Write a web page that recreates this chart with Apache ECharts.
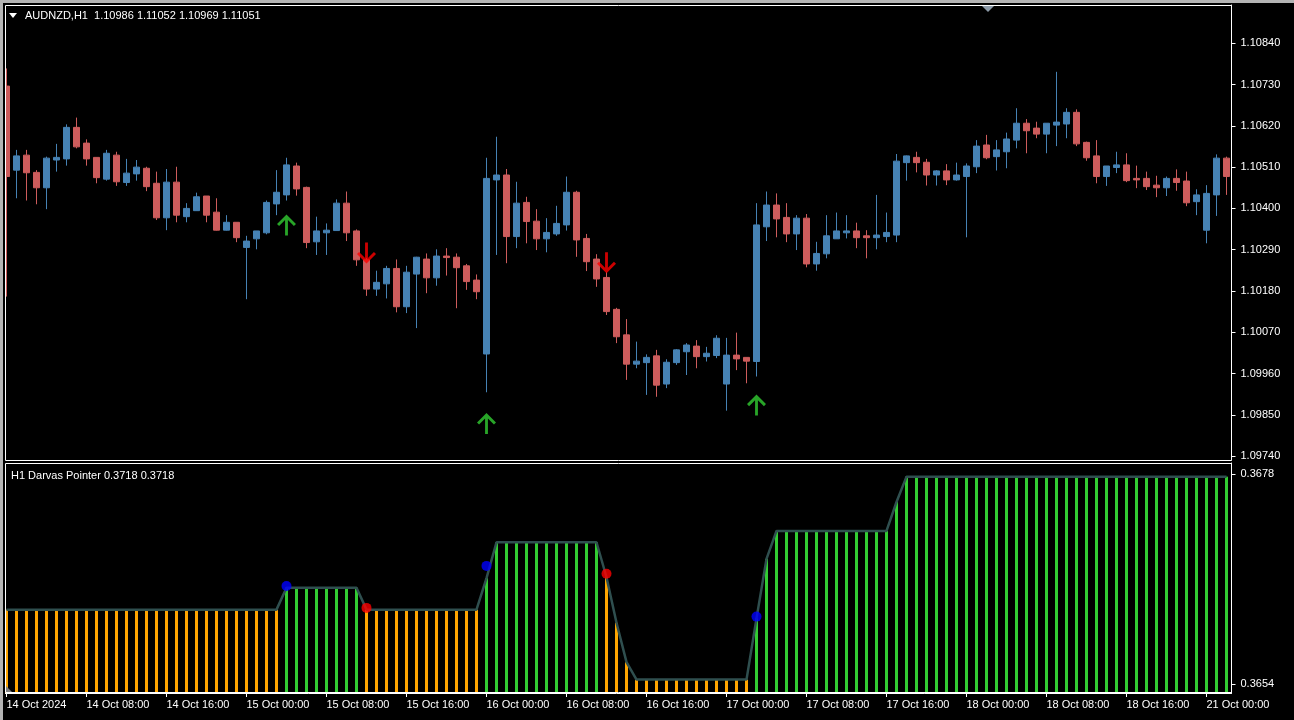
<!DOCTYPE html>
<html>
<head>
<meta charset="utf-8">
<script src="https://cdn.jsdelivr.net/npm/echarts@6/dist/echarts.min.js"></script>
<style>html,body{margin:0;padding:0;background:#000;}#chart{width:1294px;height:720px;}</style>
</head>
<body>
<div id="chart"></div>
<script>
// ---- DATA (AUDNZD H1, 14 Oct 2024 00:00 .. 21 Oct 2024 02:00) ----
const days = ['14 Oct', '15 Oct', '16 Oct', '17 Oct', '18 Oct', '21 Oct'];
const hoursPerDay = [24, 24, 24, 24, 24, 3];
const timeLabels = ['14 Oct 2024', '14 Oct 08:00', '14 Oct 16:00', '15 Oct 00:00', '15 Oct 08:00', '15 Oct 16:00',
  '16 Oct 00:00', '16 Oct 08:00', '16 Oct 16:00', '17 Oct 00:00', '17 Oct 08:00', '17 Oct 16:00',
  '18 Oct 00:00', '18 Oct 08:00', '18 Oct 16:00', '21 Oct 00:00'];
const priceTicks = [1.09740, 1.09850, 1.09960, 1.10070, 1.10180, 1.10290, 1.10400, 1.10510, 1.10620, 1.10730, 1.10840];
const indTicks = [0.3654, 0.3678];

const opens = [1.10726,1.10502,1.10542,1.10496,1.10455,1.10529,1.10532,1.10616,1.10574,1.10536,
1.10478,1.10542,1.10469,1.10492,1.10507,1.10467,1.10375,1.10470,1.10378,1.10394,
1.10433,1.10390,1.10342,1.10363,1.10296,1.10319,1.10335,1.10412,1.10436,1.10513,
1.10456,1.10311,1.10335,1.10341,1.10414,1.10340,1.10263,1.10185,1.10199,1.10240,
1.10138,1.10225,1.10265,1.10215,1.10273,1.10270,1.10247,1.10209,1.10012,1.10476,
1.10489,1.10325,1.10416,1.10366,1.10319,1.10332,1.10356,1.10443,1.10320,1.10265,
1.10216,1.10131,1.10063,1.09985,1.09989,1.10007,1.09932,1.09989,1.10018,1.10033,
1.10005,1.10008,1.09932,1.10009,1.10003,1.09992,1.10351,1.10409,1.10376,1.10332,
1.10374,1.10252,1.10279,1.10319,1.10335,1.10340,1.10327,1.10322,1.10325,1.10329,
1.10522,1.10536,1.10523,1.10489,1.10500,1.10476,1.10485,1.10511,1.10569,1.10538,
1.10551,1.10582,1.10627,1.10614,1.10598,1.10622,1.10625,1.10656,1.10576,1.10540,
1.10485,1.10509,1.10516,1.10480,1.10480,1.10462,1.10455,1.10480,1.10473,1.10418,
1.10342,1.10436,1.10534];
const highs = [1.10773,1.10556,1.10556,1.10502,1.10538,1.10572,1.10624,1.10642,1.10584,1.10536,
1.10556,1.10551,1.10532,1.10529,1.10511,1.10498,1.10505,1.10511,1.10414,1.10442,
1.10433,1.10427,1.10382,1.10363,1.10327,1.10340,1.10421,1.10502,1.10535,1.10522,
1.10458,1.10378,1.10360,1.10424,1.10445,1.10344,1.10268,1.10234,1.10247,1.10264,
1.10247,1.10271,1.10280,1.10291,1.10294,1.10280,1.10252,1.10224,1.10535,1.10591,
1.10505,1.10471,1.10431,1.10398,1.10374,1.10407,1.10485,1.10447,1.10332,1.10278,
1.10231,1.10135,1.10105,1.10045,1.10011,1.10023,1.09998,1.10025,1.10041,1.10049,
1.10031,1.10062,1.10055,1.10069,1.10003,1.10414,1.10445,1.10440,1.10414,1.10382,
1.10385,1.10311,1.10382,1.10389,1.10382,1.10362,1.10342,1.10436,1.10389,1.10545,
1.10541,1.10551,1.10532,1.10502,1.10518,1.10522,1.10520,1.10582,1.10596,1.10582,
1.10602,1.10667,1.10638,1.10631,1.10627,1.10764,1.10667,1.10664,1.10578,1.10582,
1.10513,1.10551,1.10547,1.10514,1.10498,1.10487,1.10485,1.10504,1.10498,1.10451,
1.10462,1.10544,1.10538];
const lows = [1.10165,1.10427,1.10421,1.10411,1.10398,1.10498,1.10514,1.10560,1.10514,1.10467,
1.10474,1.10460,1.10460,1.10474,1.10446,1.10369,1.10342,1.10363,1.10363,1.10394,
1.10363,1.10341,1.10341,1.10310,1.10158,1.10291,1.10331,1.10382,1.10421,1.10434,
1.10294,1.10276,1.10276,1.10341,1.10313,1.10247,1.10167,1.10167,1.10160,1.10123,
1.10121,1.10081,1.10174,1.10194,1.10221,1.10134,1.10183,1.10158,1.09910,1.10276,
1.10254,1.10294,1.10307,1.10289,1.10283,1.10327,1.10341,1.10271,1.10233,1.10191,
1.10116,1.10041,1.09943,1.09974,1.09903,1.09898,1.09921,1.09983,1.09956,1.09974,
1.09992,1.10001,1.09861,1.09969,1.09934,1.09952,1.10313,1.10323,1.10310,1.10289,
1.10243,1.10234,1.10267,1.10319,1.10320,1.10294,1.10267,1.10291,1.10310,1.10310,
1.10474,1.10496,1.10461,1.10461,1.10462,1.10474,1.10323,1.10494,1.10531,1.10501,
1.10507,1.10560,1.10547,1.10587,1.10547,1.10566,1.10587,1.10566,1.10527,1.10467,
1.10460,1.10494,1.10470,1.10454,1.10449,1.10430,1.10433,1.10447,1.10406,1.10382,
1.10307,1.10380,1.10436];
const closes = [1.10485,1.10540,1.10495,1.10455,1.10534,1.10536,1.10616,1.10564,1.10532,1.10482,
1.10547,1.10471,1.10494,1.10510,1.10458,1.10375,1.10470,1.10382,1.10400,1.10431,
1.10382,1.10342,1.10363,1.10322,1.10313,1.10340,1.10416,1.10443,1.10516,1.10452,
1.10309,1.10340,1.10342,1.10414,1.10335,1.10263,1.10185,1.10203,1.10240,1.10138,
1.10230,1.10270,1.10215,1.10273,1.10269,1.10242,1.10205,1.10178,1.10480,1.10489,
1.10325,1.10414,1.10365,1.10319,1.10336,1.10360,1.10443,1.10316,1.10258,1.10212,
1.10125,1.10058,1.09985,1.09993,1.10003,1.09929,1.09990,1.10023,1.10036,1.10005,
1.10014,1.10054,1.10009,1.09999,1.09993,1.10356,1.10409,1.10372,1.10332,1.10374,
1.10252,1.10280,1.10327,1.10340,1.10340,1.10322,1.10322,1.10329,1.10336,1.10526,
1.10540,1.10522,1.10489,1.10500,1.10476,1.10489,1.10513,1.10566,1.10535,1.10556,
1.10585,1.10627,1.10607,1.10598,1.10627,1.10630,1.10656,1.10572,1.10535,1.10485,
1.10513,1.10516,1.10474,1.10476,1.10458,1.10455,1.10480,1.10469,1.10415,1.10436,
1.10440,1.10534,1.10485];

// signal arrows on the price chart: [bar index, price]
const upArrows = [[28, 1.10356], [48, 1.09827], [75, 1.09876]];
const downArrows = [[36, 1.10281], [60, 1.10255]];

// H1 Darvas Pointer indicator
const darvasValues = [
0.36625,0.36625,0.36625,0.36625,0.36625,0.36625,0.36625,0.36625,0.36625,0.36625,
0.36625,0.36625,0.36625,0.36625,0.36625,0.36625,0.36625,0.36625,0.36625,0.36625,
0.36625,0.36625,0.36625,0.36625,0.36625,0.36625,0.36625,0.36625,0.36650,0.36650,
0.36650,0.36650,0.36650,0.36650,0.36650,0.36650,0.36625,0.36625,0.36625,0.36625,
0.36625,0.36625,0.36625,0.36625,0.36625,0.36625,0.36625,0.36625,0.36661,0.36702,
0.36702,0.36702,0.36702,0.36702,0.36702,0.36702,0.36702,0.36702,0.36702,0.36702,
0.36662,0.36610,0.36565,0.36545,0.36545,0.36545,0.36545,0.36545,0.36545,0.36545,
0.36545,0.36545,0.36545,0.36545,0.36545,0.36615,0.36683,0.36715,0.36715,0.36715,
0.36715,0.36715,0.36715,0.36715,0.36715,0.36715,0.36715,0.36715,0.36715,0.36748,
0.36777,0.36777,0.36777,0.36777,0.36777,0.36777,0.36777,0.36777,0.36777,0.36777,
0.36777,0.36777,0.36777,0.36777,0.36777,0.36777,0.36777,0.36777,0.36777,0.36777,
0.36777,0.36777,0.36777,0.36777,0.36777,0.36777,0.36777,0.36777,0.36777,0.36777,
0.36777,0.36777,0.36777];
// 1 = up box (green), 0 = down box (orange)
const darvasTrend = [
0,0,0,0,0,0,0,0,0,0, 0,0,0,0,0,0,0,0,0,0, 0,0,0,0,0,0,0,0,1,1,
1,1,1,1,1,1,0,0,0,0, 0,0,0,0,0,0,0,0,1,1, 1,1,1,1,1,1,1,1,1,1,
0,0,0,0,0,0,0,0,0,0, 0,0,0,0,0,1,1,1,1,1, 1,1,1,1,1,1,1,1,1,1,
1,1,1,1,1,1,1,1,1,1, 1,1,1,1,1,1,1,1,1,1, 1,1,1,1,1,1,1,1,1,1,
1,1,1];
const blueDots = [[28, 0.36652], [48, 0.36675], [75, 0.36617]];
const redDots = [[36, 0.36627], [60, 0.36666]];

// ---- BUILD ----
const categories = [];
days.forEach((d, di) => {
  for (let h = 0; h < hoursPerDay[di]; h++) categories.push(d + ' ' + String(h).padStart(2, '0') + ':00');
});
const candleData = opens.map((o, i) => [o, closes[i], lows[i], highs[i]]);

const FONT = "'Liberation Sans', Arial, sans-serif";
const UP = '#4682B4', DOWN = '#CD5C5C';
const GREEN = '#32CD32', ORANGE = '#FFA500';
const upPath = 'path://M10,0 L20,10 L17.8,12.2 L11.5,5.9 L11.5,22 L8.5,22 L8.5,5.9 L2.2,12.2 L0,10 Z';
const downPath = 'path://M10,22 L20,12 L17.8,9.8 L11.5,16.1 L11.5,0 L8.5,0 L8.5,16.1 L2.2,9.8 L0,12 Z';

const chart = echarts.init(document.getElementById('chart'), null, {renderer: 'canvas'});
const gridL = 1.5, gridR = 62.5;
chart.setOption({
  backgroundColor: '#000000',
  animation: false,
  grid: [
    {left: gridL, right: gridR, top: 5, height: 455},
    {left: gridL, right: gridR, top: 463, height: 230}
  ],
  xAxis: [
    {type: 'category', gridIndex: 0, data: categories, boundaryGap: true, show: false},
    {type: 'category', gridIndex: 1, data: categories, boundaryGap: true,
      axisLine: {show: true, lineStyle: {color: '#ffffff', width: 1}},
      axisTick: {show: true, interval: 7, alignWithLabel: true, length: 4, lineStyle: {color: '#ffffff'}},
      axisLabel: {show: true, interval: 7, align: 'left', margin: 6, color: '#ffffff', fontSize: 11, fontFamily: FONT,
        formatter: (v, idx) => (idx % 8 === 0 ? (timeLabels[idx / 8] || '') : '')},
      splitLine: {show: false}}
  ],
  yAxis: [
    {type: 'value', gridIndex: 0, position: 'right', min: 1.097295, max: 1.109421, scale: true,
      axisLine: {show: true, lineStyle: {color: '#ffffff'}},
      axisTick: {show: true, customValues: priceTicks, length: 4, lineStyle: {color: '#ffffff'}},
      axisLabel: {show: true, customValues: priceTicks, margin: 9, color: '#ffffff', fontSize: 11, fontFamily: FONT,
        formatter: v => v.toFixed(5)},
      splitLine: {show: false}},
    {type: 'value', gridIndex: 1, position: 'right', min: 0.365297, max: 0.367926, scale: true,
      axisLine: {show: true, lineStyle: {color: '#ffffff'}},
      axisTick: {show: true, customValues: indTicks, length: 4, lineStyle: {color: '#ffffff'}},
      axisLabel: {show: true, customValues: indTicks, margin: 9, color: '#ffffff', fontSize: 11, fontFamily: FONT,
        formatter: v => v.toFixed(4)},
      splitLine: {show: false}}
  ],
  series: [
    {type: 'candlestick', xAxisIndex: 0, yAxisIndex: 0, data: candleData, barWidth: 7,
      itemStyle: {color: UP, color0: DOWN, borderColor: UP, borderColor0: DOWN, borderWidth: 1}},
    {type: 'scatter', xAxisIndex: 0, yAxisIndex: 0, data: upArrows, symbol: upPath, symbolSize: [19, 21],
      itemStyle: {color: GREEN}, z: 5},
    {type: 'scatter', xAxisIndex: 0, yAxisIndex: 0, data: downArrows, symbol: downPath, symbolSize: [19, 21],
      itemStyle: {color: '#FF0000'}, z: 5},
    {type: 'bar', xAxisIndex: 1, yAxisIndex: 1, barWidth: 3, clip: true,
      data: darvasValues.map((v, i) => ({value: v, itemStyle: {color: darvasTrend[i] ? GREEN : ORANGE}}))},
    {type: 'line', xAxisIndex: 1, yAxisIndex: 1, data: darvasValues, showSymbol: false, symbol: 'none',
      lineStyle: {color: '#2F4F4F', width: 2.5}, z: 4},
    {type: 'scatter', xAxisIndex: 1, yAxisIndex: 1, data: blueDots, symbol: 'circle', symbolSize: 10,
      itemStyle: {color: '#0000FF'}, z: 6},
    {type: 'scatter', xAxisIndex: 1, yAxisIndex: 1, data: redDots, symbol: 'circle', symbolSize: 10,
      itemStyle: {color: '#FF0000'}, z: 6}
  ],
  graphic: [
    // window border
    {type: 'rect', shape: {x: 0, y: 0, width: 1294, height: 3}, style: {fill: '#b4b4b4'}, z: 100},
    {type: 'rect', shape: {x: 0, y: 0, width: 3, height: 720}, style: {fill: '#b4b4b4'}, z: 100},
    {type: 'rect', shape: {x: 3, y: 3, width: 2, height: 717}, style: {fill: '#000000'}, z: 100},
    // panel frames
    {type: 'rect', shape: {x: 5.5, y: 5.5, width: 1226, height: 455}, style: {fill: null, stroke: '#ffffff', lineWidth: 1}, z: 101},
    {type: 'rect', shape: {x: 5.5, y: 463.5, width: 1226, height: 229}, style: {fill: null, stroke: '#ffffff', lineWidth: 1}, z: 101},
    // chart shift marker
    {type: 'polygon', shape: {points: [[982, 6], [994, 6], [988, 12]]}, style: {fill: '#8c9aa8'}, z: 102},
    // small marker in indicator window
    {type: 'polygon', shape: {points: [[6, 686], [6, 692], [12, 692]]}, style: {fill: '#808080'}, z: 102},
    // header
    {type: 'polygon', shape: {points: [[9, 13], [17, 13], [13, 18]]}, style: {fill: '#ffffff'}, z: 102},
    {type: 'text', x: 25, y: 16, style: {text: 'AUDNZD,H1  1.10986 1.11052 1.10969 1.11051', fill: '#ffffff',
      font: '11px ' + FONT, verticalAlign: 'middle'}, z: 102},
    {type: 'text', x: 11, y: 476, style: {text: 'H1 Darvas Pointer 0.3718 0.3718', fill: '#ffffff',
      font: '11px ' + FONT, verticalAlign: 'middle'}, z: 102}
  ]
});
</script>
</body>
</html>
